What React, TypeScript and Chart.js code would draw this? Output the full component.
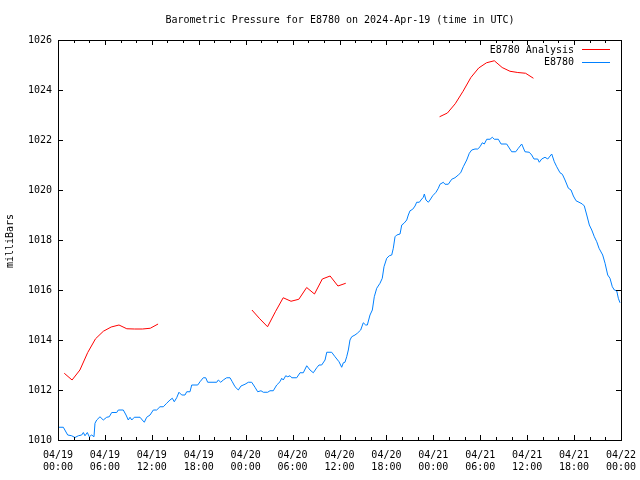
import React, { useEffect, useRef } from "react";
import { Chart, registerables } from "chart.js";

Chart.register(...registerables);

const TITLE = "Barometric Pressure for E8780 on 2024-Apr-19 (time in UTC)";
const Y_TITLE = "milliBars";
const ANALYSIS_LABEL = "E8780 Analysis";
const STATION_LABEL = "E8780";

// x tick labels (every 6 hours from 2024-04-19 00:00 UTC)
const xTickDates = ["04/19", "04/19", "04/19", "04/19", "04/20", "04/20", "04/20", "04/20", "04/21", "04/21", "04/21", "04/21", "04/22"];
const xTickTimes = ["00:00", "06:00", "12:00", "18:00", "00:00", "06:00", "12:00", "18:00", "00:00", "06:00", "12:00", "18:00", "00:00"];

const X_MIN = 0;
const X_MAX = 72;
const Y_MIN = 1010;
const Y_MAX = 1026;

// Analysis series: [hours since 04/19 00:00, mbar]
const analysisSeg1 = [
  [0.8, 1012.67], [1.8, 1012.4], [2.8, 1012.8], [3.8, 1013.5], [4.8, 1014.05], [5.8, 1014.35],
  [6.8, 1014.52], [7.8, 1014.6], [8.8, 1014.45], [9.8, 1014.44], [10.8, 1014.44], [11.8, 1014.47], [12.8, 1014.64],
];
const analysisSeg2 = [
  [24.8, 1015.2], [25.8, 1014.85], [26.8, 1014.53], [27.8, 1015.13], [28.8, 1015.69], [29.8, 1015.55],
  [30.8, 1015.63], [31.8, 1016.1], [32.8, 1015.84], [33.8, 1016.44], [34.8, 1016.56], [35.8, 1016.16], [36.8, 1016.27],
];
const analysisSeg3 = [
  [48.8, 1022.93], [49.8, 1023.08], [50.8, 1023.45], [51.8, 1023.95], [52.8, 1024.5], [53.8, 1024.88],
  [54.8, 1025.09], [55.8, 1025.17], [56.8, 1024.9], [57.8, 1024.75], [58.8, 1024.7], [59.8, 1024.67], [60.8, 1024.47],
];

// Station observations: [hours since 04/19 00:00, mbar]
const stationSeries = [
  [0.0, 1010.51], [0.26, 1010.51], [0.68, 1010.51], [1.24, 1010.2], [1.75, 1010.17], [2.17, 1010.1], [2.6, 1010.17],
  [3.03, 1010.2], [3.24, 1010.3], [3.45, 1010.17], [3.75, 1010.3], [4.0, 1010.13], [4.31, 1010.2], [4.6, 1010.13],
  [4.73, 1010.67], [4.95, 1010.8], [5.37, 1010.93], [5.79, 1010.8], [6.23, 1010.91], [6.56, 1010.93], [6.87, 1011.1],
  [7.51, 1011.1], [7.71, 1011.2], [8.35, 1011.2], [8.7, 1011.0], [8.99, 1010.8], [9.21, 1010.91], [9.43, 1010.8],
  [9.76, 1010.91], [10.49, 1010.91], [10.78, 1010.8], [11.04, 1010.71], [11.34, 1010.91], [11.77, 1011.0],
  [12.19, 1011.2], [12.62, 1011.2], [13.04, 1011.33], [13.47, 1011.33], [13.9, 1011.47], [14.32, 1011.6],
  [14.62, 1011.67], [14.87, 1011.53], [15.18, 1011.69], [15.47, 1011.91], [15.82, 1011.8], [16.24, 1011.8],
  [16.46, 1011.93], [16.88, 1011.93], [17.1, 1012.2], [17.87, 1012.2], [18.16, 1012.33], [18.58, 1012.49],
  [18.89, 1012.49], [19.14, 1012.31], [20.3, 1012.31], [20.5, 1012.4], [20.81, 1012.31], [21.14, 1012.4],
  [21.57, 1012.49], [22.0, 1012.49], [22.29, 1012.33], [22.64, 1012.13], [23.06, 1012.0], [23.4, 1012.16],
  [23.92, 1012.23], [24.34, 1012.31], [24.77, 1012.31], [25.19, 1012.11], [25.54, 1011.93], [25.96, 1011.97],
  [26.26, 1011.91], [26.82, 1011.91], [27.11, 1011.97], [27.53, 1011.97], [27.97, 1012.2], [28.39, 1012.33],
  [28.61, 1012.47], [28.81, 1012.4], [29.12, 1012.57], [29.38, 1012.53], [29.67, 1012.57], [29.89, 1012.49],
  [30.53, 1012.49], [30.95, 1012.69], [31.37, 1012.69], [31.81, 1012.97], [32.23, 1012.8], [32.65, 1012.69],
  [33.09, 1012.89], [33.38, 1013.0], [33.72, 1013.0], [34.15, 1013.2], [34.37, 1013.51], [35.0, 1013.51],
  [35.43, 1013.33], [35.94, 1013.13], [36.28, 1012.91], [36.49, 1013.09], [36.7, 1013.11], [36.92, 1013.33],
  [37.13, 1013.6], [37.34, 1014.0], [37.56, 1014.13], [37.98, 1014.2], [38.28, 1014.27], [38.71, 1014.4],
  [39.04, 1014.69], [39.35, 1014.6], [39.56, 1014.6], [39.9, 1015.0], [40.2, 1015.2], [40.45, 1015.73],
  [40.76, 1016.07], [41.18, 1016.27], [41.47, 1016.47], [41.69, 1016.93], [42.04, 1017.27], [42.37, 1017.37],
  [42.68, 1017.4], [42.88, 1017.67], [43.1, 1018.13], [43.32, 1018.2], [43.74, 1018.24], [43.96, 1018.6],
  [44.25, 1018.67], [44.6, 1018.8], [44.8, 1019.0], [45.02, 1019.17], [45.36, 1019.23], [45.66, 1019.36],
  [45.87, 1019.51], [46.21, 1019.51], [46.42, 1019.6], [46.72, 1019.71], [46.85, 1019.84], [47.06, 1019.6],
  [47.36, 1019.51], [47.57, 1019.6], [47.92, 1019.77], [48.34, 1019.91], [48.64, 1020.07], [48.85, 1020.23],
  [49.28, 1020.31], [49.49, 1020.23], [49.91, 1020.23], [50.35, 1020.43], [50.77, 1020.49], [51.19, 1020.6],
  [51.5, 1020.69], [51.83, 1020.93], [52.27, 1021.2], [52.6, 1021.47], [52.91, 1021.6], [53.33, 1021.64],
  [53.68, 1021.64], [53.97, 1021.73], [54.26, 1021.89], [54.52, 1021.84], [54.83, 1022.03], [55.25, 1022.03],
  [55.54, 1022.11], [55.8, 1022.03], [56.31, 1022.03], [56.66, 1021.84], [57.38, 1021.84], [58.02, 1021.53],
  [58.54, 1021.53], [58.87, 1021.67], [59.3, 1021.84], [59.72, 1021.53], [60.27, 1021.51], [60.58, 1021.4],
  [60.87, 1021.24], [61.35, 1021.24], [61.55, 1021.11], [61.86, 1021.24], [62.28, 1021.31], [62.63, 1021.24],
  [63.14, 1021.44], [63.47, 1021.13], [63.78, 1020.93], [64.2, 1020.69], [64.5, 1020.63], [64.84, 1020.4],
  [65.27, 1020.07], [65.61, 1020.0], [65.91, 1019.76], [66.25, 1019.57], [66.76, 1019.49], [67.06, 1019.44],
  [67.31, 1019.36], [67.62, 1019.0], [67.95, 1018.6], [68.26, 1018.4], [68.59, 1018.13], [68.9, 1017.93],
  [69.19, 1017.67], [69.66, 1017.4], [69.96, 1017.07], [70.3, 1016.6], [70.59, 1016.47], [70.89, 1016.13],
  [71.15, 1016.0], [71.45, 1015.97], [71.66, 1015.67], [71.87, 1015.49],
];

const RED = "#ff0000";
const BLUE = "#0080ff";
const FONT = "'DejaVu Sans Mono', 'Liberation Mono', monospace";

function toPoints(list: number[][]) {
  return list.map(([x, y]) => ({ x, y }));
}

function joinWithGaps(segments: number[][][]) {
  const out: { x: number; y: number | null }[] = [];
  segments.forEach((seg, i) => {
    if (i > 0) out.push({ x: (segments[i - 1][segments[i - 1].length - 1][0] + seg[0][0]) / 2, y: null });
    out.push(...toPoints(seg));
  });
  return out;
}

const framePlugin = {
  id: "gnuplotFrame",
  afterDatasetsDraw(chart: any) {
    const { ctx, chartArea: a, scales } = chart;
    const xs = scales.x;
    const ys = scales.y;
    const L = Math.round(a.left);
    const R = Math.round(a.right);
    const T = Math.round(a.top);
    const B = Math.round(a.bottom);
    ctx.save();
    ctx.strokeStyle = "#000";
    ctx.lineWidth = 1;
    ctx.beginPath();
    for (let h = X_MIN; h <= X_MAX; h += 2) {
      const px = Math.round(xs.getPixelForValue(h)) + 0.5;
      const len = h % 6 === 0 ? 5 : 3;
      ctx.moveTo(px, B);
      ctx.lineTo(px, B - len);
      ctx.moveTo(px, T);
      ctx.lineTo(px, T + len);
    }
    for (let v = Y_MIN; v <= Y_MAX; v += 2) {
      const py = Math.round(ys.getPixelForValue(v)) + 0.5;
      ctx.moveTo(L, py);
      ctx.lineTo(L + 5, py);
      ctx.moveTo(R, py);
      ctx.lineTo(R - 5, py);
    }
    ctx.stroke();
    ctx.strokeRect(L + 0.5, T + 0.5, R - L, B - T);

    ctx.fillStyle = "#000";
    ctx.font = `10px ${FONT}`;
    ctx.textAlign = "center";
    ctx.textBaseline = "middle";
    ctx.fillText(TITLE, (L + R) / 2 + 0.5, 20.5);

    ctx.save();
    ctx.translate(10, 241);
    ctx.rotate(-Math.PI / 2);
    ctx.fillText(Y_TITLE, 0, 0);
    ctx.restore();

    // legend (gnuplot style: text right-aligned, sample line to the right)
    const rows = [
      { label: chart.data.datasets[0].label, color: chart.data.datasets[0].borderColor, y: 50 },
      { label: chart.data.datasets[1].label, color: chart.data.datasets[1].borderColor, y: 62.5 },
    ];
    ctx.textAlign = "right";
    rows.forEach((r) => {
      ctx.fillStyle = "#000";
      ctx.fillText(r.label, 574, r.y);
      ctx.strokeStyle = r.color;
      ctx.beginPath();
      ctx.moveTo(582, Math.round(r.y) - 0.5);
      ctx.lineTo(610, Math.round(r.y) - 0.5);
      ctx.stroke();
    });
    ctx.restore();
  },
};

export default function App() {
  const ref = useRef<HTMLCanvasElement | null>(null);

  useEffect(() => {
    if (!ref.current) return;
    const chart = new Chart(ref.current, {
      type: "line",
      data: {
        datasets: [
          {
            label: ANALYSIS_LABEL,
            data: joinWithGaps([analysisSeg1, analysisSeg2, analysisSeg3]) as any,
            borderColor: RED,
            backgroundColor: RED,
            borderWidth: 1,
            pointRadius: 0,
            tension: 0,
            spanGaps: false,
          },
          {
            label: STATION_LABEL,
            data: toPoints(stationSeries) as any,
            borderColor: BLUE,
            backgroundColor: BLUE,
            borderWidth: 1,
            pointRadius: 0,
            tension: 0,
          },
        ],
      },
      options: {
        animation: false,
        responsive: false,
        devicePixelRatio: 1,
        layout: { padding: { left: 0, right: 19, top: 40, bottom: 0 } },
        plugins: {
          legend: { display: false },
          title: { display: false },
          tooltip: { enabled: false },
        },
        scales: {
          x: {
            type: "linear",
            min: X_MIN,
            max: X_MAX,
            border: { display: false },
            grid: { display: false, drawTicks: false },
            afterFit: (s: any) => {
              s.height = 40;
              s.paddingLeft = 0;
              s.paddingRight = 0;
            },
            ticks: {
              stepSize: 6,
              autoSkip: false,
              maxRotation: 0,
              minRotation: 0,
              padding: 9,
              color: "#000",
              font: { family: FONT, size: 10, lineHeight: 1.2 },
              callback: (value: any) => {
                const i = Math.round(Number(value) / 6);
                return [xTickDates[i], xTickTimes[i]];
              },
            },
          },
          y: {
            type: "linear",
            min: Y_MIN,
            max: Y_MAX,
            border: { display: false },
            grid: { display: false, drawTicks: false },
            afterFit: (s: any) => {
              s.width = 58;
              s.paddingTop = 0;
              s.paddingBottom = 0;
            },
            ticks: {
              stepSize: 2,
              padding: 6,
              color: "#000",
              font: { family: FONT, size: 10 },
              callback: (value: any) => String(value),
            },
          },
        },
      },
      plugins: [framePlugin],
    });
    return () => chart.destroy();
  }, []);

  return (
    <div style={{ position: "fixed", left: 0, top: 0, width: 640, height: 480, background: "#fff" }}>
      <canvas ref={ref} width={640} height={480} style={{ display: "block" }} />
    </div>
  );
}
